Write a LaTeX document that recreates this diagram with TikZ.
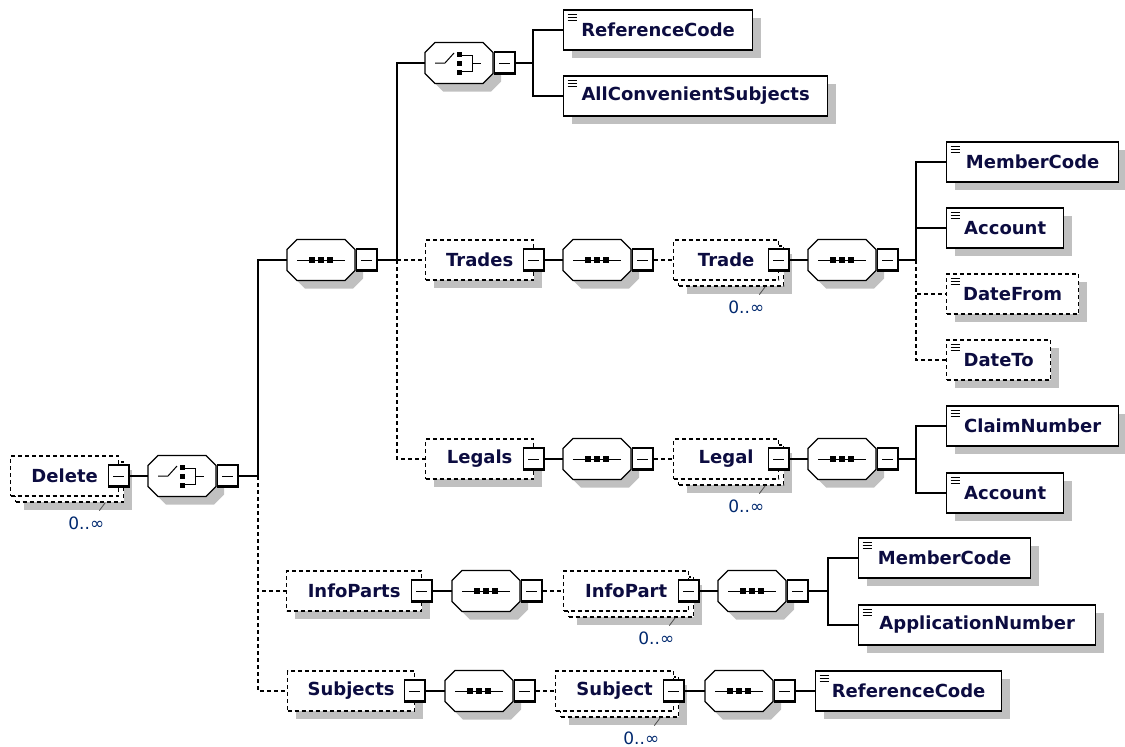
\documentclass[tikz,border=0pt]{standalone}
\usepackage{fontspec}
\setmainfont{DejaVu Sans}
\usetikzlibrary{shadows}
\definecolor{shadowgray}{RGB}{192,192,192}
\definecolor{namecolor}{RGB}{12,12,64}
\definecolor{multcolor}{RGB}{0,40,110}

\begin{document}
\begin{tikzpicture}[x=1pt,y=-1pt]
   \tikzstyle{every node}=[font=\fontsize{18}{21}\selectfont\bfseries, text=namecolor, inner sep=0pt]
   \tikzstyle{opt}=[dash pattern=on 4pt off 3pt]
   \tikzstyle{elem}=[draw, fill=white, line width=1.3pt, minimum height=40pt, anchor=west,
      general shadow={fill=shadowgray, shadow xshift=8pt, shadow yshift=-8pt}]
   \tikzstyle{icon}=[path picture={
      \foreach \dy in {4,7,10}
         \draw[solid, line width=1pt] ([shift={(4,\dy)}]path picture bounding box.north west) -- ++(9,0);}]
   \tikzstyle{repeated}=[draw, fill=white, line width=1.3pt, minimum height=40pt, anchor=west, opt,
      general shadow={fill=shadowgray, shadow xshift=13pt, shadow yshift=-14pt},
      general shadow={fill=white, draw, line width=1.3pt, dash pattern=on 4pt off 3pt, shadow xshift=5pt, shadow yshift=-6pt}]
   \tikzstyle{minus}=[draw, fill=white, solid, line width=1.2pt, minimum width=21pt, minimum height=22pt,
      path picture={
         \draw[line width=4pt] (path picture bounding box.north east) -- (path picture bounding box.south east)
            -- (path picture bounding box.south west);
         \draw[line width=1pt] ([xshift=-6pt]path picture bounding box.center) -- ([xshift=5pt]path picture bounding box.center);}]
   \tikzstyle{hit}=[minimum width=68pt, minimum height=41pt]
   \tikzstyle{mult}=[font=\fontsize{17}{20}\selectfont, text=multcolor]
   \tikzstyle{multmark}=[line width=0.8pt, black!70]
   \tikzstyle{link}=[line width=1.3pt]
   \tikzstyle{optlink}=[link, opt]
   \tikzset{
      octagon/.style={insert path={(0,-10.5) -- (10,-20.5) -- (58,-20.5) -- (68,-10.5) -- (68,10.5) -- (58,20.5) -- (10,20.5) -- (0,10.5) -- cycle}},
      pics/sequence/.style={code={
         \fill[shadowgray, shift={(8,8)}] [octagon];
         \draw[fill=white, line width=1.2pt] [octagon];
         \draw[line width=1pt] (10,0) -- (58,0);
         \foreach \dx in {25,34,43}
            \fill (\dx-3,-3) rectangle +(6,6);
         \node[hit] (-box) at (34,0) {};
         \node[minus, anchor=west] (-minus) at (69,0) {};
      }},
      pics/choice/.style={code={
         \fill[shadowgray, shift={(8,8)}] [octagon];
         \draw[fill=white, line width=1.2pt] [octagon];
         \draw[line width=1pt] (10,0) -- (20,0) -- (29,-10);
         \foreach \dy in {-9,0,9}
            \fill (32,\dy-2.5) rectangle +(5,5);
         \draw[line width=1pt] (37,-8) -| (47,8) -- (37,8);
         \draw[line width=1pt] (47,0) -- (56,0);
         \node[hit] (-box) at (34,0) {};
         \node[minus, anchor=west] (-minus) at (69,0) {};
      }}
   }

   \useasboundingbox (0,0) rectangle (1125,747);

   % root
   \node[repeated, minimum width=108pt] (delete) at (10,476) {Delete\hspace{11pt}};
   \node[minus] (deleteM) at (delete.east) {};
   \node[mult] (deleteN) at ([shift={(-33,47)}]delete.east) {0..∞};
   \draw[multmark] ([shift={(-14,6)}]delete.south east) -- ++(-6,8);
   \pic (choiceD) at (148,476) {choice};
   \coordinate (busD) at (258,476);

   \pic (seqA) at (287,260) {sequence};
   \coordinate (busA) at (397,260);

   % choice of subjects
   \pic (choiceB) at (425,63) {choice};
   \coordinate (busB) at (533,63);
   \node[elem, icon, minimum width=189pt] (refcode) at (563,30) {ReferenceCode};
   \node[elem, icon, minimum width=264pt] (allconv) at (563,96) {AllConvenientSubjects};

   % trades
   \node[elem, opt, minimum width=108pt] (trades) at (425,260) {Trades\hspace{11pt}};
   \node[minus] (tradesM) at (trades.east) {};
   \pic (seqT) at (563,260) {sequence};
   \node[repeated, minimum width=105pt] (trade) at (673,260) {Trade\hspace{11pt}};
   \node[minus] (tradeM) at (trade.east) {};
   \node[mult] (tradeN) at ([shift={(-33,47)}]trade.east) {0..∞};
   \draw[multmark] ([shift={(-14,6)}]trade.south east) -- ++(-6,8);
   \pic (seqTr) at (808,260) {sequence};
   \coordinate (busT) at (916,260);
   \node[elem, icon, minimum width=172pt] (member1) at (946,162) {MemberCode};
   \node[elem, icon, minimum width=117pt] (account1) at (946,228) {Account};
   \node[elem, opt, icon, minimum width=132pt] (datefrom) at (946,294) {DateFrom};
   \node[elem, opt, icon, minimum width=104pt] (dateto) at (946,360) {DateTo};

   % legals
   \node[elem, opt, minimum width=108pt] (legals) at (425,459) {Legals\hspace{11pt}};
   \node[minus] (legalsM) at (legals.east) {};
   \pic (seqL) at (563,459) {sequence};
   \node[repeated, minimum width=105pt] (legal) at (673,459) {Legal\hspace{11pt}};
   \node[minus] (legalM) at (legal.east) {};
   \node[mult] (legalN) at ([shift={(-33,47)}]legal.east) {0..∞};
   \draw[multmark] ([shift={(-14,6)}]legal.south east) -- ++(-6,8);
   \pic (seqLg) at (808,459) {sequence};
   \coordinate (busL) at (916,459);
   \node[elem, icon, minimum width=172pt] (claim) at (946,426) {ClaimNumber};
   \node[elem, icon, minimum width=117pt] (account2) at (946,493) {Account};

   % info parts
   \node[elem, opt, minimum width=135pt] (infoparts) at (286,591) {InfoParts\hspace{11pt}};
   \node[minus] (infopartsM) at (infoparts.east) {};
   \pic (seqI) at (452,591) {sequence};
   \node[repeated, minimum width=125pt] (infopart) at (563,591) {InfoPart\hspace{11pt}};
   \node[minus] (infopartM) at (infopart.east) {};
   \node[mult] (infopartN) at ([shift={(-33,47)}]infopart.east) {0..∞};
   \draw[multmark] ([shift={(-14,6)}]infopart.south east) -- ++(-6,8);
   \pic (seqIp) at (718,591) {sequence};
   \coordinate (busI) at (828,591);
   \node[elem, icon, minimum width=172pt] (member2) at (858,558) {MemberCode};
   \node[elem, icon, minimum width=237pt] (appnum) at (858,625) {ApplicationNumber};

   % subjects
   \node[elem, opt, minimum width=127pt] (subjects) at (287,691) {Subjects\hspace{11pt}};
   \node[minus] (subjectsM) at (subjects.east) {};
   \pic (seqS) at (445,691) {sequence};
   \node[repeated, minimum width=118pt] (subject) at (555,691) {Subject\hspace{11pt}};
   \node[minus] (subjectM) at (subject.east) {};
   \node[mult] (subjectN) at ([shift={(-33,47)}]subject.east) {0..∞};
   \draw[multmark] ([shift={(-14,6)}]subject.south east) -- ++(-6,8);
   \pic (seqSb) at (705,691) {sequence};
   \node[elem, icon, minimum width=186pt] (refcode2) at (815,691) {ReferenceCode};

   % connectors
   \draw[link] (deleteM.east) -- (choiceD-box.west);
   \draw[link] (choiceD-minus.east) -- (busD);
   \draw[link] (busD) |- (seqA-box.west);
   \draw[optlink] (busD) |- (infoparts.west);
   \draw[optlink] (busD) |- (subjects.west);

   \draw[link] (seqA-minus.east) -- (busA);
   \draw[link] (busA) |- (choiceB-box.west);
   \draw[optlink] (busA) |- (trades.west);
   \draw[optlink] (busA) |- (legals.west);

   \draw[link] (choiceB-minus.east) -- (busB);
   \draw[link] (busB) |- (refcode.west);
   \draw[link] (busB) |- (allconv.west);

   \draw[link] (tradesM.east) -- (seqT-box.west);
   \draw[optlink] (seqT-minus.east) -- (trade.west);
   \draw[link] (tradeM.east) -- (seqTr-box.west);
   \draw[link] (seqTr-minus.east) -- (busT);
   \draw[link] (busT) |- (member1.west);
   \draw[link] (busT) |- (account1.west);
   \draw[optlink] (busT) |- (datefrom.west);
   \draw[optlink] (busT) |- (dateto.west);

   \draw[link] (legalsM.east) -- (seqL-box.west);
   \draw[optlink] (seqL-minus.east) -- (legal.west);
   \draw[link] (legalM.east) -- (seqLg-box.west);
   \draw[link] (seqLg-minus.east) -- (busL);
   \draw[link] (busL) |- (claim.west);
   \draw[link] (busL) |- (account2.west);

   \draw[link] (infopartsM.east) -- (seqI-box.west);
   \draw[optlink] (seqI-minus.east) -- (infopart.west);
   \draw[link] (infopartM.east) -- (seqIp-box.west);
   \draw[link] (seqIp-minus.east) -- (busI);
   \draw[link] (busI) |- (member2.west);
   \draw[link] (busI) |- (appnum.west);

   \draw[link] (subjectsM.east) -- (seqS-box.west);
   \draw[optlink] (seqS-minus.east) -- (subject.west);
   \draw[link] (subjectM.east) -- (seqSb-box.west);
   \draw[link] (seqSb-minus.east) -- (refcode2.west);
\end{tikzpicture}
\end{document}
